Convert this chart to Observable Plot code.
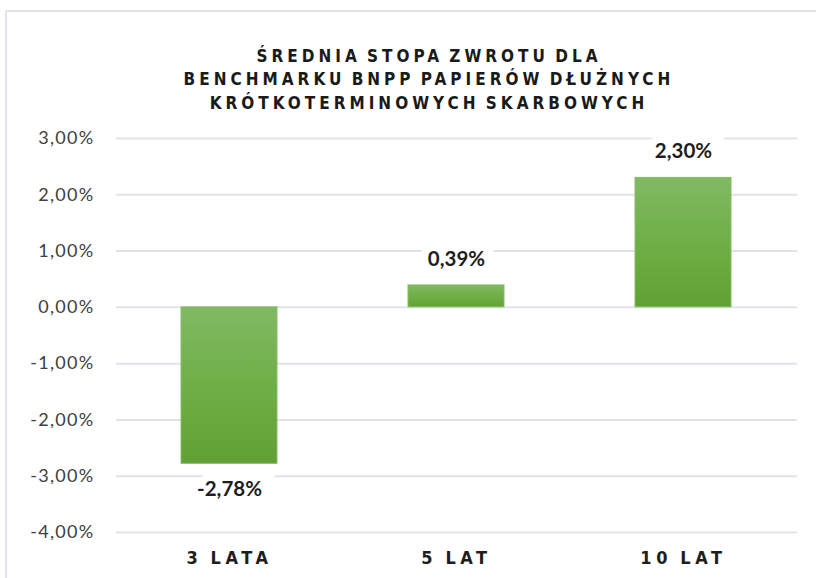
<!DOCTYPE html>
<html>
<head>
<meta charset="utf-8">
<script src="https://cdn.jsdelivr.net/npm/d3@7"></script>
<script src="https://cdn.jsdelivr.net/npm/@observablehq/plot@0.6"></script>
<style>
  html, body { margin: 0; padding: 0; background: #fff; }
  #wrap { position: relative; width: 816px; height: 578px; overflow: hidden; background: #fff; }
  #frame { position: absolute; left: 5px; top: 10px; width: 900px; height: 700px;
           border-left: 2px solid #e1e4e8; border-top: 2px solid #e1e4e8; }
  #title { position: absolute; left: 0; top: 44.6px; width: 858px; text-align: center;
           font-family: "Liberation Sans Narrow", "DejaVu Sans Condensed", "Liberation Sans", Arial, sans-serif;
           font-weight: bold; font-size: 17px; line-height: 23.5px; letter-spacing: 4px; word-spacing: -3px; color: #1a1a1a; }
  #chart { position: absolute; left: 0; top: 120px; }
  g[aria-label="x-axis tick label"] text { letter-spacing: 4.6px; word-spacing: -2px; }
  g[aria-label="y-axis tick label"] text { letter-spacing: 1.3px; }
</style>
</head>
<body>
<div id="wrap">
  <div id="frame"></div>
  <div id="title"></div>
  <div id="chart"></div>
</div>
<script>
const titleLines = ["ŚREDNIA STOPA ZWROTU DLA", "BENCHMARKU BNPP PAPIERÓW DŁUŻNYCH", "KRÓTKOTERMINOWYCH SKARBOWYCH"];
const categories = ["3 LATA", "5 LAT", "10 LAT"];
const values = [-2.78, 0.39, 2.30];
const yTicks = [-4, -3, -2, -1, 0, 1, 2, 3];

const data = categories.map((c, i) => ({cat: c, value: values[i]}));
const fmt = v => v.toFixed(2).replace(".", ",") + "%";

document.getElementById("title").innerHTML = titleLines.join("<br>");

const labelFont = "Lato, 'Open Sans', sans-serif";

const plot = Plot.plot({
  width: 816,
  height: 457,
  marginTop: 18,
  marginBottom: 45,
  marginLeft: 116,
  marginRight: 19,
  style: {background: "transparent", overflow: "visible"},
  x: {domain: categories, paddingInner: 0.577, paddingOuter: 0.2885, label: null},
  y: {domain: [-4, 3], label: null},
  marks: [
    Plot.gridY(yTicks, {stroke: "#dfe3e8", strokeOpacity: 1, strokeWidth: 2}),
    Plot.barY(data, {x: "cat", y: "value", fill: "url(#barGrad)", stroke: "#86bd68", strokeWidth: 1}),
    Plot.text(data.filter(d => d.value >= 0), {
      x: "cat", y: "value", text: d => fmt(d.value), dy: -26,
      fontFamily: labelFont, fontWeight: "bold", fontSize: 20.5, fill: "#1e1e1e",
      stroke: "white", strokeWidth: 16, strokeLinejoin: "miter"
    }),
    Plot.text(data.filter(d => d.value < 0), {
      x: "cat", y: "value", text: d => fmt(d.value), dy: 26,
      fontFamily: labelFont, fontWeight: "bold", fontSize: 20.5, fill: "#1e1e1e",
      stroke: "white", strokeWidth: 16, strokeLinejoin: "miter"
    }),
    Plot.axisY({
      ticks: yTicks, tickFormat: fmt, tickSize: 0, tickPadding: 22,
      fontFamily: labelFont, fontSize: 18, fill: "#404040", label: null
    }),
    Plot.axisX({
      tickSize: 0, tickPadding: 19,
      fontFamily: "'Liberation Sans Narrow', 'DejaVu Sans Condensed', 'Liberation Sans', Arial, sans-serif",
      fontWeight: "bold", fontSize: 18, fill: "#1e1e1e", label: null
    })
  ]
});

const svg = d3.select(plot);
const defs = svg.insert("defs", ":first-child");
const grad = defs.append("linearGradient").attr("id", "barGrad")
  .attr("x1", 0).attr("y1", 0).attr("x2", 0).attr("y2", 1);
grad.append("stop").attr("offset", "0%").attr("stop-color", "#81b964");
grad.append("stop").attr("offset", "50%").attr("stop-color", "#6faf47");
grad.append("stop").attr("offset", "100%").attr("stop-color", "#60a034");

document.getElementById("chart").appendChild(plot);
</script>
</body>
</html>
